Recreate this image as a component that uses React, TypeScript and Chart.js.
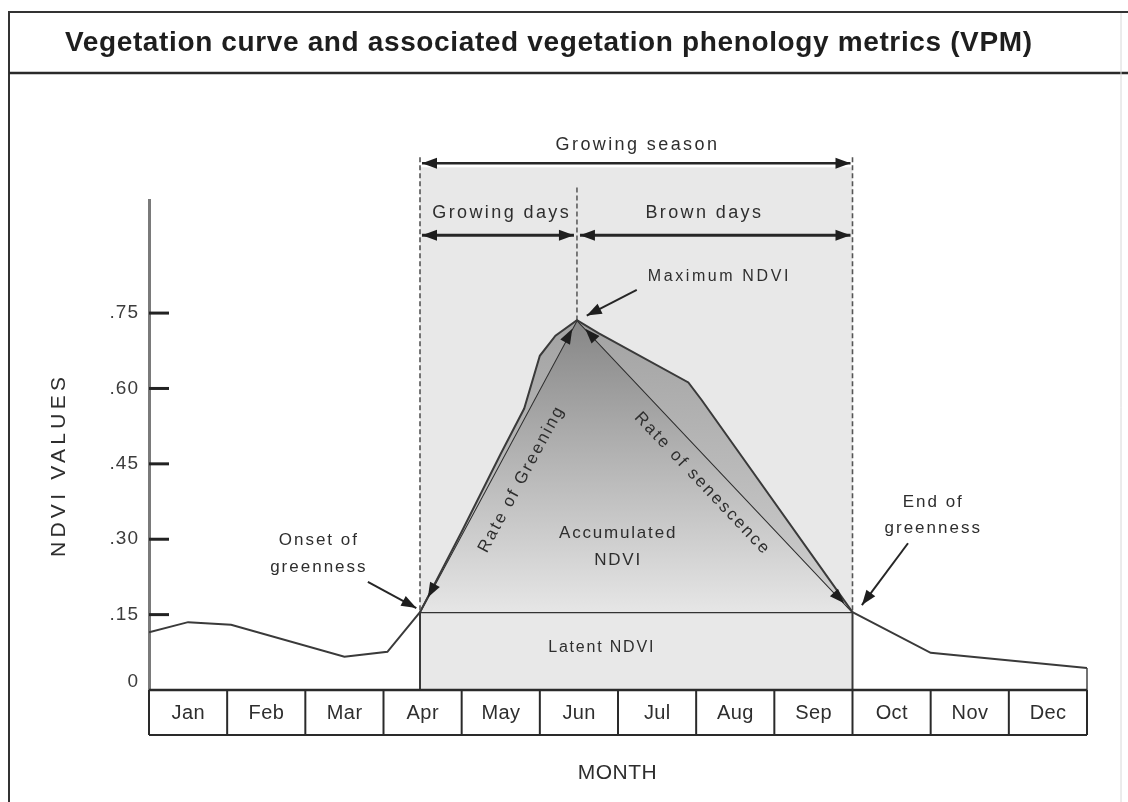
import React, { useEffect, useRef } from 'react';
import { Chart, registerables } from 'chart.js';

Chart.register(...registerables);

// ---------- data ----------
const MONTHS = ['Jan', 'Feb', 'Mar', 'Apr', 'May', 'Jun', 'Jul', 'Aug', 'Sep', 'Oct', 'Nov', 'Dec'];
const Y_TICKS = [0, 0.15, 0.3, 0.45, 0.6, 0.75];
const Y_TICK_LABELS = ['0', '.15', '.30', '.45', '.60', '.75'];

// month position (0 = start of Jan, 12 = end of Dec) and NDVI value
const PRE_MONTH = [0, 0.5, 1.05, 2.5, 3.05, 3.467];
const PRE_NDVI = [0.115, 0.135, 0.13, 0.066, 0.076, 0.155];

const SEASON_MONTH = [3.467, 3.75, 4.0, 4.5, 4.8, 5.0, 5.2, 5.475, 5.75, 6.9, 7.07, 9.0];
const SEASON_NDVI = [0.155, 0.24, 0.315, 0.47, 0.56, 0.665, 0.705, 0.736, 0.71, 0.612, 0.577, 0.155];

const POST_MONTH = [9.0, 10.0, 12.0];
const POST_NDVI = [0.155, 0.074, 0.044];

// onset of greenness, maximum NDVI, end of greenness
const RATE_MONTH = [3.467, 5.475, 9.0];
const RATE_NDVI = [0.155, 0.736, 0.155];

const LATENT_MONTH = [3.467, 9.0];
const LATENT_NDVI = [0.155, 0.155];

const ONSET = RATE_MONTH[0];
const PEAK = RATE_MONTH[1];
const END = RATE_MONTH[2];
const LATENT = RATE_NDVI[0];
const PEAK_NDVI = RATE_NDVI[1];

const FONT = "'Liberation Sans', Arial, Helvetica, sans-serif";

const pts = (xs: number[], ys: number[]) => xs.map((x, i) => ({ x, y: ys[i] }));

function txt(
  ctx: CanvasRenderingContext2D,
  s: string,
  x: number,
  y: number,
  o: { size?: number; weight?: string; ls?: number; align?: string; color?: string; rot?: number; width?: number } = {}
) {
  const size = o.size ?? 18;
  const weight = o.weight ?? 'normal';
  let ls = o.ls ?? 2.4;
  const align = o.align ?? 'center';
  ctx.save();
  ctx.font = `${weight} ${size}px ${FONT}`;
  ctx.fillStyle = o.color ?? '#2e2e2e';
  ctx.textBaseline = 'middle';
  ctx.textAlign = 'left';
  (ctx as any).letterSpacing = '0px';
  const w0 = ctx.measureText(s).width;
  if (o.width) ls = (o.width - w0) / Math.max(1, s.length - 1);
  const w = w0 + ls * (s.length - 1);
  (ctx as any).letterSpacing = ls + 'px';
  ctx.translate(x, y);
  ctx.rotate(o.rot ?? 0);
  const sx = align === 'center' ? -w / 2 : align === 'right' ? -w : 0;
  ctx.fillText(s, sx, 0);
  ctx.restore();
}

function head(ctx: CanvasRenderingContext2D, tx: number, ty: number, fx: number, fy: number, len = 15, half = 5.5) {
  const a = Math.atan2(ty - fy, tx - fx);
  const c = Math.cos(a), s = Math.sin(a);
  ctx.beginPath();
  ctx.moveTo(tx, ty);
  ctx.lineTo(tx - len * c + half * s, ty - len * s - half * c);
  ctx.lineTo(tx - len * c - half * s, ty - len * s + half * c);
  ctx.closePath();
  ctx.fill();
}

function arrow(ctx: CanvasRenderingContext2D, x1: number, y1: number, x2: number, y2: number, both: boolean, lw = 2) {
  ctx.save();
  ctx.strokeStyle = '#262626';
  ctx.fillStyle = '#1e1e1e';
  ctx.lineWidth = lw;
  ctx.beginPath();
  ctx.moveTo(x1, y1);
  ctx.lineTo(x2, y2);
  ctx.stroke();
  head(ctx, x2, y2, x1, y1);
  if (both) head(ctx, x1, y1, x2, y2);
  ctx.restore();
}

function line(ctx: CanvasRenderingContext2D, x1: number, y1: number, x2: number, y2: number, lw = 2, color = '#333', dash: number[] = []) {
  ctx.save();
  ctx.strokeStyle = color;
  ctx.lineWidth = lw;
  ctx.setLineDash(dash);
  ctx.beginPath();
  ctx.moveTo(x1, y1);
  ctx.lineTo(x2, y2);
  ctx.stroke();
  ctx.restore();
}

const decor = {
  id: 'decor',
  beforeDatasetsDraw(chart: any) {
    const { ctx, scales } = chart;
    const x = scales.x, y = scales.y;
    const x0 = x.getPixelForValue(ONSET), x1 = x.getPixelForValue(END);
    const top = y.getPixelForValue(1.04);
    const bot = y.getPixelForValue(0);
    ctx.save();
    ctx.fillStyle = '#e8e8e8';
    ctx.fillRect(x0, top, x1 - x0, bot - top);
    ctx.restore();
  },
  afterDraw(chart: any) {
    const { ctx, scales, chartArea } = chart;
    const x = scales.x, y = scales.y;
    const P = (m: number) => x.getPixelForValue(m);
    const V = (v: number) => y.getPixelForValue(v);
    const xOn = P(ONSET), xEnd = P(END), xPk = P(PEAK);
    const yLat = V(LATENT), yPk = V(PEAK_NDVI), y0 = V(0);

    // frame and title
    ctx.save();
    ctx.strokeStyle = '#333';
    ctx.lineWidth = 2;
    ctx.strokeRect(9, 12, 1300, 1000);
    ctx.restore();
    line(ctx, 9, 73, 1128, 73, 2.5, '#2a2a2a');
    line(ctx, 1121, 13, 1121, 802, 1, '#d8d8d8');
    txt(ctx, 'Vegetation curve and associated vegetation phenology metrics (VPM)', 65, 43, {
      size: 28, weight: 'bold', align: 'left', width: 967, color: '#1e1e1e',
    });

    // season boundaries
    const dTop = V(1.06);
    line(ctx, xOn, dTop, xOn, yLat, 1.6, '#555', [5, 3]);
    line(ctx, xEnd, dTop, xEnd, yLat, 1.6, '#555', [5, 3]);
    line(ctx, xOn, yLat, xOn, y0, 2, '#3a3a3a');
    line(ctx, xEnd, yLat, xEnd, y0, 2, '#3a3a3a');
    line(ctx, xPk, V(1.0), xPk, yPk, 1.5, '#555', [5, 3]);

    // season arrows
    const ySeason = V(1.048);
    arrow(ctx, xOn + 2, ySeason, xEnd - 2, ySeason, true, 2.5);
    txt(ctx, 'Growing season', (xOn + xEnd) / 2, V(1.084));
    const yDays = V(0.905);
    arrow(ctx, xOn + 2, yDays, xPk - 3, yDays, true, 3);
    arrow(ctx, xPk + 3, yDays, xEnd - 2, yDays, true, 3);
    txt(ctx, 'Growing days', (xOn + xPk) / 2 + 2, V(0.949));
    txt(ctx, 'Brown days', P(7.09), V(0.949));

    // maximum NDVI
    txt(ctx, 'Maximum NDVI', P(7.28), V(0.822), { size: 16, ls: 2.6 });
    arrow(ctx, P(6.24), V(0.796), P(5.6), V(0.745), false, 2);

    // rate arrows along the straight lines
    const t = 0.05;
    const gx1 = xOn + (xPk - xOn) * t, gy1 = yLat + (yPk - yLat) * t;
    const gx2 = xOn + (xPk - xOn) * (1 - t * 0.6), gy2 = yLat + (yPk - yLat) * (1 - t * 0.6);
    ctx.save();
    ctx.fillStyle = '#1e1e1e';
    head(ctx, gx1, gy1, gx2, gy2);
    head(ctx, gx2, gy2, gx1, gy1);
    const sx1 = xPk + (xEnd - xPk) * t * 0.6, sy1 = yPk + (yLat - yPk) * t * 0.6;
    const sx2 = xPk + (xEnd - xPk) * (1 - t * 0.6), sy2 = yPk + (yLat - yPk) * (1 - t * 0.6);
    head(ctx, sx1, sy1, sx2, sy2);
    head(ctx, sx2, sy2, sx1, sy1);
    ctx.restore();

    const angG = Math.atan2(yPk - yLat, xPk - xOn);
    const angS = Math.atan2(yLat - yPk, xEnd - xPk);
    txt(ctx, 'Rate of Greening', P(4.76), V(0.418), { rot: angG, size: 17, ls: 2.2 });
    txt(ctx, 'Rate of senescence', P(7.07), V(0.412), { rot: angS, size: 17, ls: 2.2 });

    // area labels
    txt(ctx, 'Accumulated', P(5.99), V(0.312), { size: 17, ls: 1.8 });
    txt(ctx, 'NDVI', P(5.99), V(0.259), { size: 17, ls: 1.8 });
    txt(ctx, 'Latent NDVI', P(5.78), V(0.084), { size: 16, ls: 1.8 });

    // onset / end
    txt(ctx, 'Onset of', P(2.16), V(0.298), { size: 17, ls: 2 });
    txt(ctx, 'greenness', P(2.16), V(0.245), { size: 17, ls: 2 });
    arrow(ctx, P(2.8), V(0.215), P(3.42), V(0.163), false, 2);
    txt(ctx, 'End of', P(10.02), V(0.374), { size: 17, ls: 2 });
    txt(ctx, 'greenness', P(10.02), V(0.322), { size: 17, ls: 2 });
    arrow(ctx, P(9.71), V(0.292), P(9.12), V(0.169), false, 2);

    // closing segment at the right end of the curve
    line(ctx, P(12), V(POST_NDVI[POST_NDVI.length - 1]), P(12), y0, 1.5, '#444');

    // y axis ticks and labels
    for (let i = 0; i < Y_TICKS.length; i++) {
      const yy = V(Y_TICKS[i]);
      if (Y_TICKS[i] > 0) line(ctx, chartArea.left, yy, chartArea.left + 20, yy, 3, '#222');
      txt(ctx, Y_TICK_LABELS[i], 138, Y_TICKS[i] === 0 ? yy - 8 : yy, {
        size: 19, ls: 1, align: 'right', color: '#3c3c3c',
      });
    }
    txt(ctx, 'NDVI VALUES', 59, 467, { size: 21, rot: -Math.PI / 2, width: 180, color: '#2e2e2e' });

    // month box
    const bTop = y0, bBot = y0 + 45;
    line(ctx, P(0), bTop, P(12), bTop, 2.5, '#2a2a2a');
    line(ctx, P(0), bBot, P(12), bBot, 2, '#2a2a2a');
    for (let i = 0; i <= 12; i++) line(ctx, P(i), bTop, P(i), bBot, 2, '#2a2a2a');
    for (let i = 0; i < MONTHS.length; i++) {
      txt(ctx, MONTHS[i], P(i + 0.5), (bTop + bBot) / 2 + 1, { size: 20, ls: 0.4 });
    }
    txt(ctx, 'MONTH', P(5.99), 773, { size: 21, ls: 0.5 });
  },
};

export default function App() {
  const ref = useRef<HTMLCanvasElement | null>(null);

  useEffect(() => {
    if (!ref.current) return;
    const bandFill = (c: any) => {
      const { chart } = c;
      if (!chart.chartArea) return '#b0b0b0';
      const y = chart.scales.y;
      const g = chart.ctx.createLinearGradient(0, y.getPixelForValue(PEAK_NDVI), 0, y.getPixelForValue(LATENT));
      g.addColorStop(0, '#a2a2a2');
      g.addColorStop(1, '#d0d0d0');
      return g;
    };
    const triFill = (c: any) => {
      const { chart } = c;
      if (!chart.chartArea) return '#c0c0c0';
      const y = chart.scales.y;
      const g = chart.ctx.createLinearGradient(0, y.getPixelForValue(PEAK_NDVI), 0, y.getPixelForValue(LATENT));
      g.addColorStop(0, '#868686');
      g.addColorStop(1, '#e6e6e6');
      return g;
    };

    const chart = new Chart(ref.current, {
      type: 'line',
      data: {
        datasets: [
          {
            label: 'NDVI curve (season)',
            data: pts(SEASON_MONTH, SEASON_NDVI),
            borderColor: '#3a3a3a',
            borderWidth: 2,
            backgroundColor: bandFill,
            fill: '+1',
          },
          {
            label: 'Rates',
            data: pts(RATE_MONTH, RATE_NDVI),
            borderColor: '#2e2e2e',
            borderWidth: 2,
            backgroundColor: triFill,
            fill: { value: LATENT },
          },
          {
            label: 'NDVI curve (before)',
            data: pts(PRE_MONTH, PRE_NDVI),
            borderColor: '#3a3a3a',
            borderWidth: 2,
            fill: false,
          },
          {
            label: 'NDVI curve (after)',
            data: pts(POST_MONTH, POST_NDVI),
            borderColor: '#3a3a3a',
            borderWidth: 2,
            fill: false,
          },
          {
            label: 'Latent',
            data: pts(LATENT_MONTH, LATENT_NDVI),
            borderColor: '#333',
            borderWidth: 2.5,
            fill: false,
          },
        ],
      } as any,
      options: {
        responsive: false,
        animation: false,
        events: [],
        layout: { padding: { left: 0, right: 41, top: 200, bottom: 0 } },
        elements: { point: { radius: 0 }, line: { tension: 0 } },
        plugins: {
          legend: { display: false },
          tooltip: { enabled: false },
          title: { display: false },
        },
        scales: {
          x: {
            type: 'linear',
            min: 0,
            max: 12,
            grid: { display: false },
            border: { display: false },
            ticks: { display: false },
            afterFit: (s: any) => { s.height = 112; },
          },
          y: {
            type: 'linear',
            min: 0,
            max: 0.975,
            grid: { display: false },
            border: { display: true, color: '#7a7a7a', width: 3 },
            ticks: { display: false },
            afterFit: (s: any) => { s.width = 149; },
          },
        },
      } as any,
      plugins: [decor],
    });
    return () => chart.destroy();
  }, []);

  return (
    <div style={{ position: 'absolute', left: 0, top: 0, width: 1128, height: 802, background: '#fff' }}>
      <canvas ref={ref} width={1128} height={802} style={{ display: 'block', width: 1128, height: 802 }} />
    </div>
  );
}
